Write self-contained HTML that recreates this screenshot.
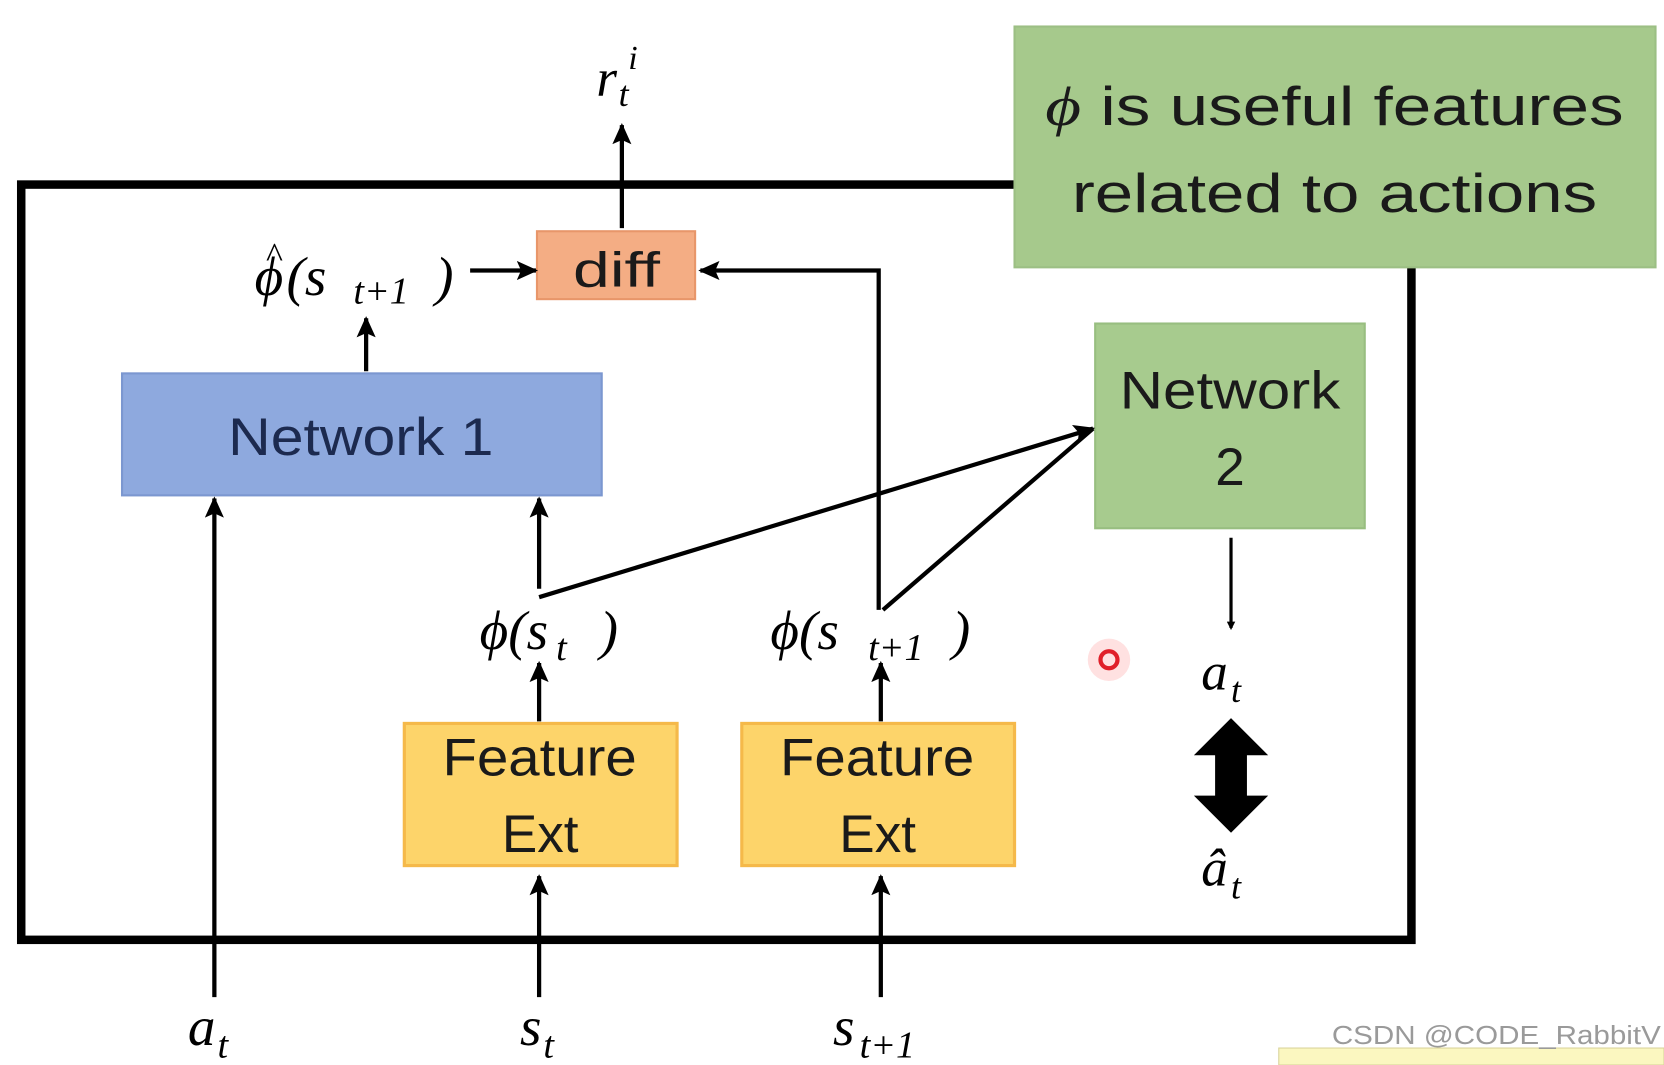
<!DOCTYPE html>
<html><head><style>
html,body{margin:0;padding:0;background:#fff;}
svg{display:block;}
text{font-family:"Liberation Sans",sans-serif;}
.m{font-family:"Liberation Serif","DejaVu Serif",serif;font-style:italic;}
</style></head><body>
<svg width="1664" height="1065" viewBox="0 0 1568 1004" preserveAspectRatio="none" xmlns="http://www.w3.org/2000/svg">
<defs>
<marker id="ah" markerWidth="8" markerHeight="8" refX="6" refY="4" orient="auto" markerUnits="userSpaceOnUse">
<path d="M0,0 L8,4 L0,8 Z" fill="#000"/>
</marker>
<marker id="ah2" markerWidth="20" markerHeight="18" refX="18" refY="9" orient="auto" markerUnits="userSpaceOnUse">
<path d="M0,0 L20,9 L0,18 L4,9 Z" fill="#000"/>
</marker>
</defs>
<rect width="1568" height="1004" fill="#fff"/>
<rect x="20" y="174" width="1310" height="712" fill="none" stroke="#000" stroke-width="8"/>
<rect x="956" y="25" width="604" height="227" fill="#a6c98c" stroke="#9cbf84" stroke-width="2"/>
<text x="985" y="118" font-size="52" fill="#1a1a1a" textLength="545" lengthAdjust="spacingAndGlyphs"><tspan class="m">ϕ</tspan> is useful features</text>
<text x="1010" y="200" font-size="52" fill="#1a1a1a" textLength="495" lengthAdjust="spacingAndGlyphs">related to actions</text>
<!-- r_t^i -->
<text x="562" y="90" font-size="50" class="m">r</text>
<text x="583" y="100" font-size="34" class="m">t</text>
<text x="592" y="65" font-size="32" class="m">i</text>
<line x1="586" y1="215" x2="586" y2="118" stroke="#000" stroke-width="4" marker-end="url(#ah2)"/>
<rect x="506" y="218" width="149" height="64" fill="#f4ad84" stroke="#e8966a" stroke-width="2"/>
<text x="540" y="270" font-size="46" fill="#1a1a1a" textLength="82" lengthAdjust="spacingAndGlyphs">diff</text>
<!-- phi hat -->
<text x="240" y="278" font-size="52" class="m">ϕ</text>
<text x="250" y="252" font-size="34" class="m">^</text>
<text x="270" y="278" font-size="52" class="m">(s</text>
<text x="333" y="286" font-size="36" class="m">t+1</text>
<text x="410" y="278" font-size="52" class="m">)</text>
<line x1="443" y1="255" x2="505" y2="255" stroke="#000" stroke-width="4" marker-end="url(#ah2)"/>
<polyline points="828,575 828,255 660,255" fill="none" stroke="#000" stroke-width="4" marker-end="url(#ah2)"/>
<line x1="345" y1="350" x2="345" y2="300" stroke="#000" stroke-width="4" marker-end="url(#ah2)"/>
<rect x="115" y="352" width="452" height="115" fill="#8ea9de" stroke="#7b97d0" stroke-width="2"/>
<text x="215" y="429" font-size="50" fill="#1c2a4f" textLength="250" lengthAdjust="spacingAndGlyphs">Network 1</text>
<rect x="1032" y="305" width="254" height="193" fill="#a7cb8e" stroke="#98be80" stroke-width="2"/>
<text x="1055" y="385" font-size="50" fill="#1a1a1a" textLength="208" lengthAdjust="spacingAndGlyphs">Network</text>
<text x="1159" y="457" font-size="50" text-anchor="middle" fill="#1a1a1a">2</text>
<line x1="1160" y1="507" x2="1160" y2="592" stroke="#000" stroke-width="3" marker-end="url(#ah)"/>
<text x="1132" y="650" font-size="50" class="m">a</text>
<text x="1160" y="662" font-size="34" class="m">t</text>
<path d="M1160,677 L1195,712 L1175,712 L1175,750 L1195,750 L1160,785 L1125,750 L1145,750 L1145,712 L1125,712 Z" fill="#000"/>
<text x="1132" y="835" font-size="50" class="m">â</text>
<text x="1160" y="847" font-size="34" class="m">t</text>
<circle cx="1045" cy="622" r="20" fill="#ffdada" opacity="0.8"/>
<circle cx="1045" cy="622" r="8" fill="none" stroke="#e0202a" stroke-width="4"/>
<!-- phi(s_t) -->
<text x="452" y="612" font-size="52" class="m">ϕ(s</text>
<text x="524" y="622" font-size="36" class="m">t</text>
<text x="565" y="612" font-size="52" class="m">)</text>
<text x="726" y="612" font-size="52" class="m">ϕ(s</text>
<text x="818" y="622" font-size="36" class="m">t+1</text>
<text x="897" y="612" font-size="52" class="m">)</text>
<line x1="508" y1="563" x2="1030" y2="404" stroke="#000" stroke-width="4" marker-end="url(#ah2)"/>
<line x1="832" y1="575" x2="1030" y2="404" stroke="#000" stroke-width="4"/>
<line x1="508" y1="555" x2="508" y2="470" stroke="#000" stroke-width="4" marker-end="url(#ah2)"/>
<rect x="381" y="682" width="257" height="134" fill="#fdd46a" stroke="#f5b94a" stroke-width="3"/>
<text x="417" y="731" font-size="50" fill="#1a1a1a" textLength="183" lengthAdjust="spacingAndGlyphs">Feature</text>
<text x="509" y="803" font-size="50" text-anchor="middle" fill="#1a1a1a">Ext</text>
<rect x="699" y="682" width="257" height="134" fill="#fdd46a" stroke="#f5b94a" stroke-width="3"/>
<text x="735" y="731" font-size="50" fill="#1a1a1a" textLength="183" lengthAdjust="spacingAndGlyphs">Feature</text>
<text x="827" y="803" font-size="50" text-anchor="middle" fill="#1a1a1a">Ext</text>
<line x1="508" y1="680" x2="508" y2="625" stroke="#000" stroke-width="4" marker-end="url(#ah2)"/>
<line x1="830" y1="680" x2="830" y2="625" stroke="#000" stroke-width="4" marker-end="url(#ah2)"/>
<line x1="202" y1="940" x2="202" y2="470" stroke="#000" stroke-width="4" marker-end="url(#ah2)"/>
<line x1="508" y1="940" x2="508" y2="826" stroke="#000" stroke-width="4" marker-end="url(#ah2)"/>
<line x1="830" y1="940" x2="830" y2="826" stroke="#000" stroke-width="4" marker-end="url(#ah2)"/>
<text x="177" y="985" font-size="52" class="m">a</text>
<text x="205" y="997" font-size="36" class="m">t</text>
<text x="490" y="985" font-size="52" class="m">s</text>
<text x="512" y="997" font-size="36" class="m">t</text>
<text x="785" y="985" font-size="52" class="m">s</text>
<text x="810" y="997" font-size="36" class="m">t+1</text>
<rect x="1205" y="988" width="363" height="16" fill="#fbf7c0" stroke="#d8d39a"/>
<text x="1255" y="984" font-size="24" fill="#9a9a9a" textLength="310" lengthAdjust="spacingAndGlyphs">CSDN @CODE_RabbitV</text>
</svg>
</body></html>
